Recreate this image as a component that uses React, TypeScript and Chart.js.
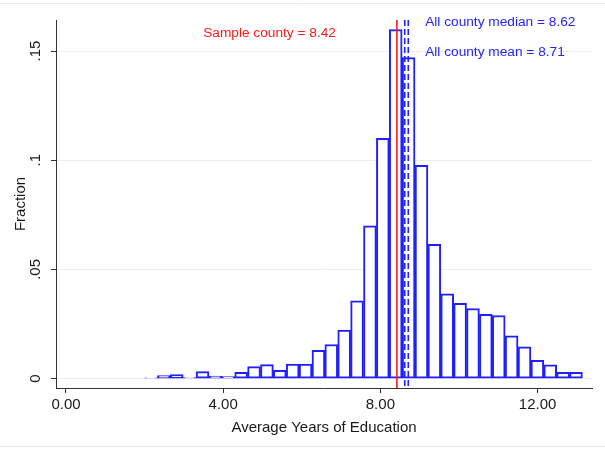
import React, { useEffect, useRef } from "react";
import { Chart, registerables } from "chart.js";

Chart.register(...registerables);

// Histogram bins (Average Years of Education)
const binStart = 2.0;
const binWidth = 0.3277;
const fractions = [
  0.0004, 0.0014, 0.0018, 0.0005, 0.0032, 0.0012, 0.0009, 0.0029, 0.0055, 0.0064,
  0.0038, 0.0066, 0.0066, 0.013, 0.0156, 0.0222, 0.0356, 0.0699, 0.11, 0.1598,
  0.147, 0.0977, 0.0615, 0.0388, 0.0345, 0.0321, 0.0294, 0.0289, 0.0196, 0.0145,
  0.0084, 0.0063, 0.0029, 0.0029,
];

const xTickValues = [0, 4, 8, 12];
const yTickValues = [0, 0.05, 0.1, 0.15];
const yTickLabels = ["0", ".05", ".1", ".15"];

// Reference lines
const refValues = [8.42, 8.62, 8.71];
const refColors = ["#ff1a1a", "#1f1fff", "#1f1fff"];
const refDashed = [false, true, true];

// Annotations
const noteTexts = ["Sample county = 8.42", "All county median = 8.62", "All county mean = 8.71"];
const noteX = [3.49, 9.14, 9.14];
const noteY = [0.1562, 0.1613, 0.1478];
const noteColors = ["#ff1a1a", "#1f1fff", "#1f1fff"];

const FONT = "'Liberation Sans', Arial, sans-serif";

export default function App() {
  const ref = useRef<HTMLCanvasElement | null>(null);

  useEffect(() => {
    if (!ref.current) return;
    const points = fractions.map((f, i) => ({ x: binStart + (i + 0.5) * binWidth, y: f }));

    const overlay = {
      id: "overlay",
      beforeDraw(chart: any) {
        const ctx = chart.ctx;
        ctx.save();
        ctx.fillStyle = "#ffffff";
        ctx.fillRect(0, 0, chart.width, chart.height);
        ctx.strokeStyle = "#e6edf0";
        ctx.lineWidth = 1;
        ctx.beginPath();
        ctx.moveTo(0, 3.5);
        ctx.lineTo(chart.width, 3.5);
        ctx.moveTo(0, 446.5);
        ctx.lineTo(chart.width, 446.5);
        ctx.stroke();
        ctx.restore();
      },
      afterDatasetsDraw(chart: any) {
        const ctx = chart.ctx;
        const xs = chart.scales.x;
        const ys = chart.scales.y;
        const area = chart.chartArea;
        ctx.save();
        refValues.forEach((v, i) => {
          const px = xs.getPixelForValue(v);
          ctx.beginPath();
          ctx.strokeStyle = refColors[i];
          ctx.lineWidth = 1.6;
          ctx.setLineDash(refDashed[i] ? [6, 3] : []);
          ctx.moveTo(px, area.top);
          ctx.lineTo(px, area.bottom);
          ctx.stroke();
        });
        ctx.setLineDash([]);
        ctx.font = `13.7px ${FONT}`;
        ctx.textAlign = "left";
        ctx.textBaseline = "alphabetic";
        noteTexts.forEach((t, i) => {
          ctx.fillStyle = noteColors[i];
          ctx.fillText(t, xs.getPixelForValue(noteX[i]), ys.getPixelForValue(noteY[i]));
        });
        ctx.restore();
      },
    };

    const chart = new Chart(ref.current, {
      type: "bar",
      data: {
        datasets: [
          {
            data: points as any,
            backgroundColor: "#ffffff",
            borderColor: "#1f1fff",
            borderWidth: 2,
            borderSkipped: false,
            barPercentage: 1,
            categoryPercentage: 1,
          },
        ],
      },
      options: {
        responsive: false,
        animation: false,
        events: [],
        layout: { padding: { left: 12, right: 13, top: 20, bottom: 12 } },
        plugins: { legend: { display: false }, tooltip: { enabled: false } },
        scales: {
          x: {
            type: "linear",
            min: -0.254,
            max: 13.385,
            offset: false,
            afterBuildTicks: (s: any) => {
              s.ticks = xTickValues.map((v) => ({ value: v }));
            },
            afterFit: (s: any) => {
              s.height = 49;
            },
            ticks: {
              callback: (v: any) => Number(v).toFixed(2),
              font: { size: 15, family: FONT },
              color: "#1a1a1a",
              padding: 3,
              maxRotation: 0,
              autoSkip: false,
            },
            grid: { offset: false, drawOnChartArea: false, drawTicks: true, tickLength: 5, color: "#333333" },
            border: { display: true, color: "#333333", width: 1 },
            title: {
              display: true,
              text: "Average Years of Education",
              font: { size: 15, family: FONT },
              color: "#1a1a1a",
              padding: { top: 0, bottom: 0 },
            },
          },
          y: {
            type: "linear",
            min: -0.0043,
            max: 0.1642,
            afterBuildTicks: (s: any) => {
              s.ticks = yTickValues.map((v) => ({ value: v }));
            },
            afterFit: (s: any) => {
              s.width = 44;
            },
            ticks: {
              callback: (_v: any, i: number) => yTickLabels[i],
              font: { size: 15, family: FONT },
              color: "#1a1a1a",
              minRotation: 90,
              maxRotation: 90,
              crossAlign: "center",
              padding: 5,
              autoSkip: false,
            },
            grid: { color: "#e8eff2", tickColor: "#333333", tickLength: 5, drawTicks: true },
            border: { display: true, color: "#333333", width: 1 },
            title: {
              display: true,
              text: "Fraction",
              font: { size: 15, family: FONT },
              color: "#1a1a1a",
              padding: { top: 0, bottom: 0 },
            },
          },
        },
      } as any,
      plugins: [overlay],
    });
    return () => chart.destroy();
  }, []);

  return (
    <div style={{ position: "absolute", left: 0, top: 0, width: 605, height: 449 }}>
      <canvas ref={ref} width={605} height={449} />
    </div>
  );
}
